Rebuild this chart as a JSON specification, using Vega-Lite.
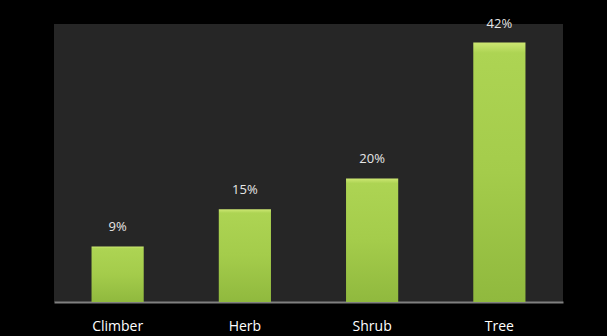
{
  "$schema": "https://vega.github.io/schema/vega-lite/v6.json",
  "width": 509,
  "height": 278,
  "autosize": "none",
  "padding": {"left": 54, "top": 24, "right": 44, "bottom": 34},
  "background": "#000000",
  "config": {"view": {"fill": "#262626", "stroke": null}},
  "data": {"values": [
    {"type": "Climber", "pct": 9},
    {"type": "Herb", "pct": 15},
    {"type": "Shrub", "pct": 20},
    {"type": "Tree", "pct": 42}
  ]},
  "encoding": {
    "x": {"field": "type", "type": "nominal", "sort": null,
      "scale": {"paddingInner": 0.59, "paddingOuter": 0.295},
      "axis": {"title": null, "labelAngle": 0, "ticks": false, "domainColor": "#808080", "domainWidth": 2,
        "labelColor": "#ffffff", "labelFont": "Open Sans", "labelFontSize": 14, "labelPadding": 17}},
    "y": {"field": "pct", "type": "quantitative", "scale": {"domain": [0, 45]}, "axis": null}
  },
  "layer": [
    {"mark": {"type": "bar", "color": {"gradient": "linear", "x1": 0, "y1": 0, "x2": 0, "y2": 1,
      "stops": [{"offset": 0, "color": "#cde772"}, {"offset": 0.04, "color": "#add453"}, {"offset": 0.5, "color": "#a4cc4b"}, {"offset": 1, "color": "#90b93e"}]}}},
    {"transform": [{"calculate": "datum.pct + '%'", "as": "label"}],
      "mark": {"type": "text", "baseline": "alphabetic", "dy": -15, "color": "#e6e6e6", "font": "Open Sans", "fontSize": 13},
      "encoding": {"text": {"field": "label", "type": "nominal"}}}
  ]
}
